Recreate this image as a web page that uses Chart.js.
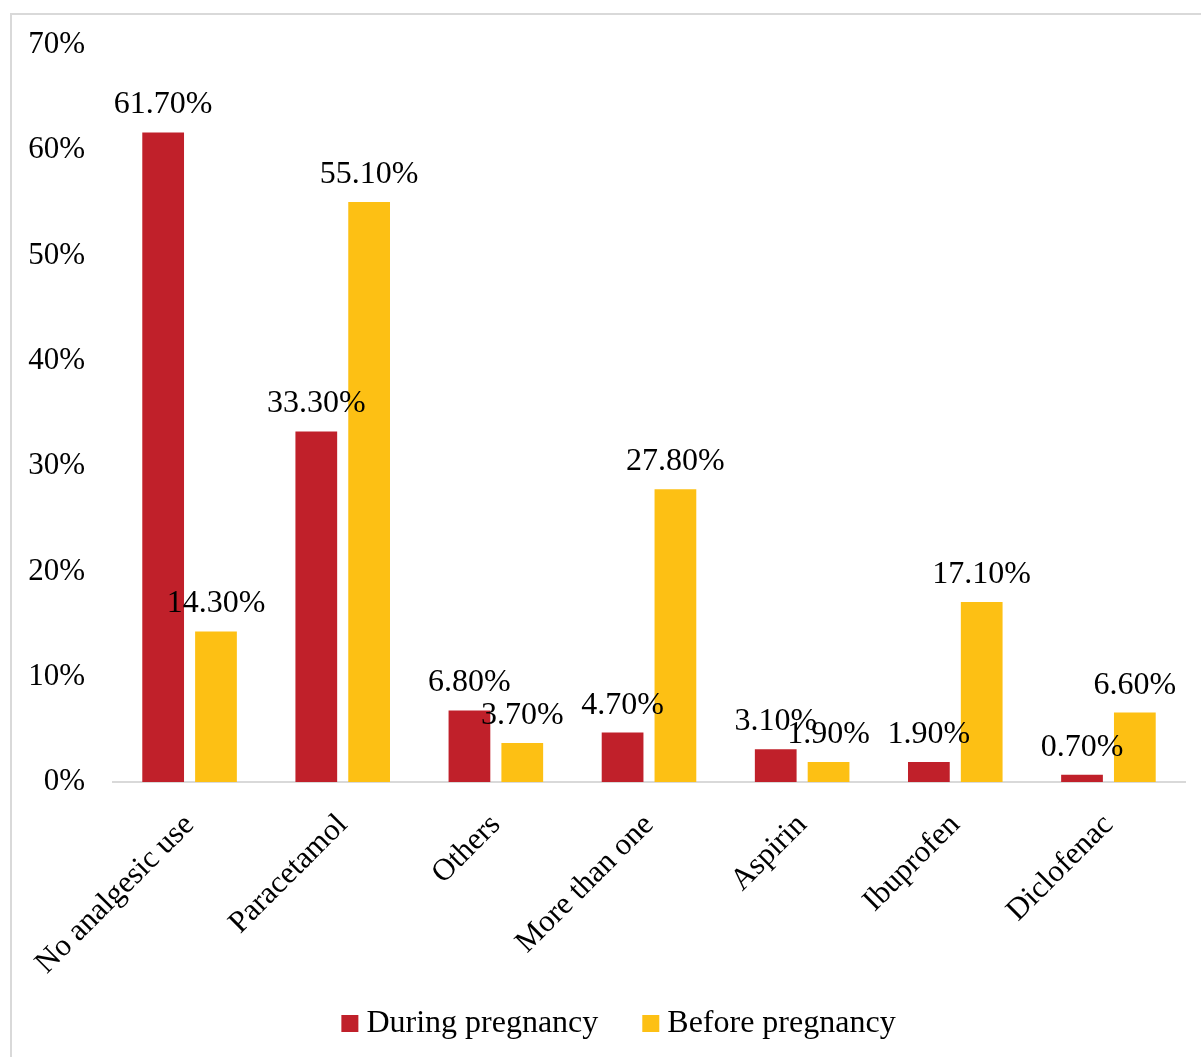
<!DOCTYPE html>
<html>
<head>
<meta charset="utf-8">
<script src="https://cdn.jsdelivr.net/npm/chart.js@4.4.1/dist/chart.umd.min.js"></script>
<style>
  html, body { margin: 0; padding: 0; background: #fff; overflow: hidden; }
  #box { position: absolute; left: 10px; top: 13px; width: 1195px; height: 1050px; border: 2px solid #d9d9d9; background: #fff; }
  #c { display: block; }
</style>
</head>
<body>
<div id="box"><canvas id="c" width="1195" height="1050"></canvas></div>
<script>
const categories = ["No analgesic use", "Paracetamol", "Others", "More than one", "Aspirin", "Ibuprofen", "Diclofenac"];
const duringPregnancy = [61.7, 33.3, 6.8, 4.7, 3.1, 1.9, 0.7];
const beforePregnancy = [14.3, 55.1, 3.7, 27.8, 1.9, 17.1, 6.6];
const seriesNames = ["During pregnancy", "Before pregnancy"];
const seriesColors = ["#c0202a", "#fdc014"];
const yTicks = [0, 10, 20, 30, 40, 50, 60, 70];

const FONT = "'Liberation Serif', 'Times New Roman', serif";

const valueLabels = {
  id: 'valueLabels',
  afterDatasetsDraw(chart) {
    const ctx = chart.ctx;
    ctx.save();
    ctx.font = "32px " + FONT;
    ctx.fillStyle = "#000";
    ctx.textAlign = "center";
    ctx.textBaseline = "alphabetic";
    chart.data.datasets.forEach((ds, di) => {
      const meta = chart.getDatasetMeta(di);
      meta.data.forEach((bar, i) => {
        ctx.fillText(ds.data[i].toFixed(2) + "%", bar.x, bar.y - 19);
      });
    });
    ctx.restore();
  }
};

const bottomLegend = {
  id: 'bottomLegend',
  afterDraw(chart) {
    const ctx = chart.ctx;
    ctx.save();
    ctx.font = "32px " + FONT;
    ctx.textBaseline = "alphabetic";
    ctx.textAlign = "left";
    const box = 17, gapText = 8, gapItem = 44;
    const items = chart.data.datasets.map(ds => ({ text: ds.label, color: ds.backgroundColor, w: ctx.measureText(ds.label).width }));
    let total = 0;
    items.forEach((it, i) => { total += box + gapText + it.w + (i < items.length - 1 ? gapItem : 0); });
    let x = (chart.width - total) / 2 + 9;
    const baseline = 1017;
    items.forEach(it => {
      ctx.fillStyle = it.color;
      ctx.fillRect(x, baseline - box, box, box);
      x += box + gapText;
      ctx.fillStyle = "#000";
      ctx.fillText(it.text, x, baseline);
      x += it.w + gapItem;
    });
    ctx.restore();
  }
};

new Chart(document.getElementById('c'), {
  type: 'bar',
  data: {
    labels: categories,
    datasets: [
      { label: seriesNames[0], data: duringPregnancy, backgroundColor: seriesColors[0], borderWidth: 0,
        categoryPercentage: 0.69, barPercentage: 0.79 },
      { label: seriesNames[1], data: beforePregnancy, backgroundColor: seriesColors[1], borderWidth: 0,
        categoryPercentage: 0.69, barPercentage: 0.79 }
    ]
  },
  options: {
    responsive: false,
    animation: false,
    layout: { padding: { left: 0, right: 22, top: 30, bottom: 0 } },
    plugins: {
      legend: { display: false },
      tooltip: { enabled: false }
    },
    scales: {
      x: {
        grid: { display: false, drawTicks: false },
        border: { display: true, color: '#d9d9d9', width: 2 },
        ticks: {
          font: { family: FONT, size: 31 },
          color: '#000',
          maxRotation: 45,
          minRotation: 45,
          padding: 25
        },
        afterFit(scale) { scale.height = 283; scale.paddingLeft = 0; scale.paddingRight = 0; }
      },
      y: {
        min: 0,
        max: 70,
        grid: { display: false, drawTicks: false },
        border: { display: false },
        afterBuildTicks(scale) { scale.ticks = yTicks.map(v => ({ value: v })); },
        ticks: {
          font: { family: FONT, size: 31 },
          color: '#000',
          padding: 28,
          callback: (v) => v + '%'
        },
        afterFit(scale) { scale.width = 101; scale.paddingTop = 0; scale.paddingBottom = 0; }
      }
    }
  },
  plugins: [valueLabels, bottomLegend]
});
</script>
</body>
</html>
